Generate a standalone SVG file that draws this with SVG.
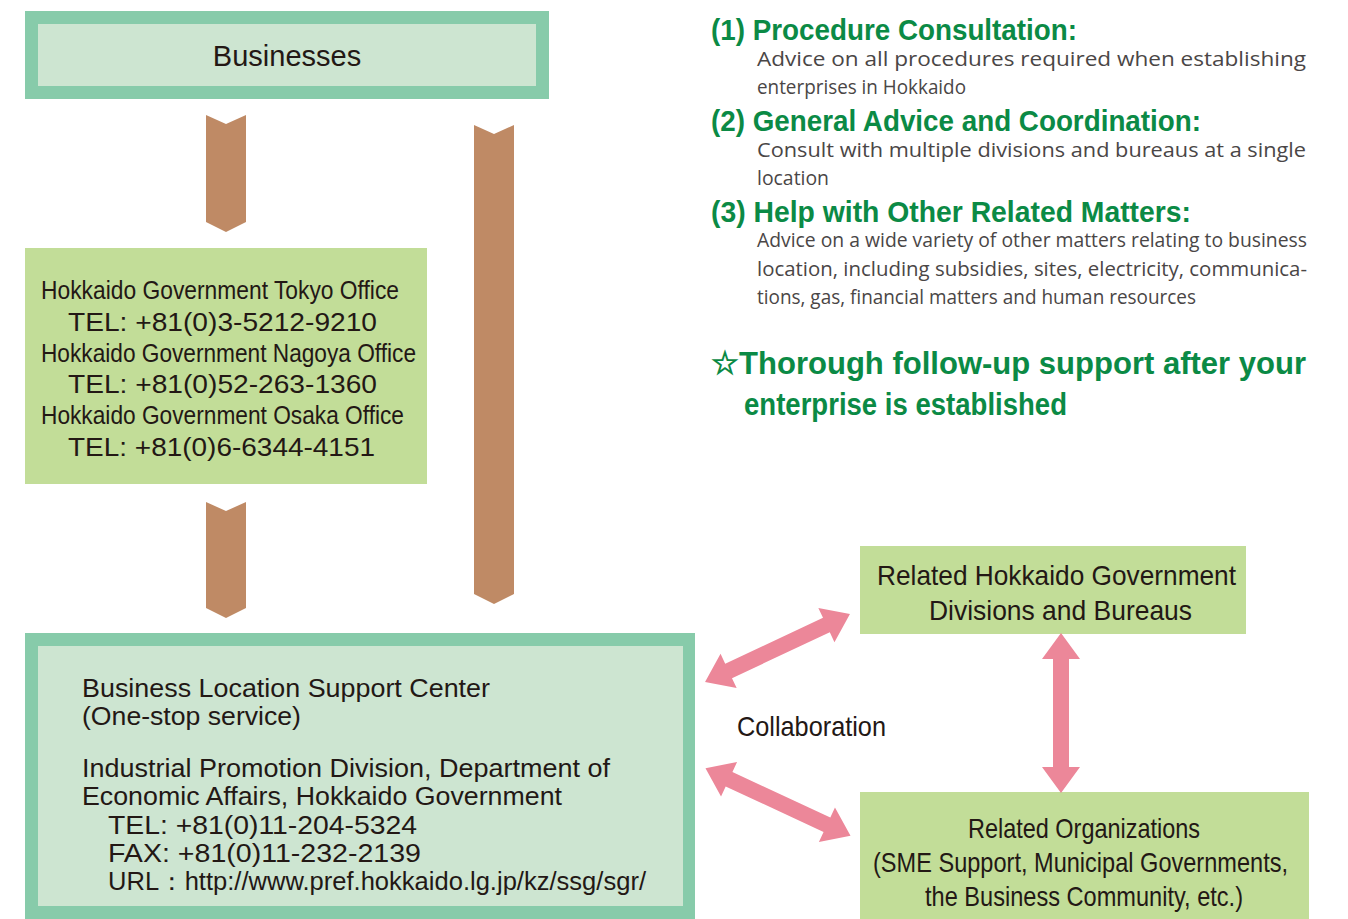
<svg xmlns="http://www.w3.org/2000/svg" width="1348" height="919" viewBox="0 0 1348 919">
<defs>
<style>
.outer{fill:#87CBAA}
.inner{fill:#CDE5D1}
.lg{fill:#C2DD98}
.tan{fill:#BF8A65}
.pink{fill:#EC8799}
.t{font-family:"Liberation Sans",Arial,sans-serif;fill:#231815}
.h{font-family:"Liberation Sans",Arial,sans-serif;font-weight:bold;fill:#0B8A45}
.b{font-family:"Open Sans","Noto Sans",sans-serif;fill:#4A4646}
</style>
<polygon id="dbl" points="-80,0 -54,-19 -54,-8 54,-8 54,-19 80,0 54,19 54,8 -54,8 -54,19"/>
</defs>
<rect width="1348" height="919" fill="#ffffff"/>

<g id="businesses">
<rect class="outer" x="25" y="11" width="524" height="88"/>
<rect class="inner" x="38" y="24" width="498" height="62"/>
<text class="t" x="287" y="66" font-size="29" text-anchor="middle">Businesses</text>
</g>

<g id="tokyo-offices">
<rect class="lg" x="25" y="248" width="402" height="236"/>
<text class="t" x="41" y="299" font-size="26" textLength="358" lengthAdjust="spacingAndGlyphs">Hokkaido Government Tokyo Office</text>
<text class="t" x="68" y="331" font-size="26" textLength="309" lengthAdjust="spacingAndGlyphs">TEL: +81(0)3-5212-9210</text>
<text class="t" x="41" y="362" font-size="26" textLength="375" lengthAdjust="spacingAndGlyphs">Hokkaido Government Nagoya Office</text>
<text class="t" x="68" y="393" font-size="26" textLength="309" lengthAdjust="spacingAndGlyphs">TEL: +81(0)52-263-1360</text>
<text class="t" x="41" y="424" font-size="26" textLength="363" lengthAdjust="spacingAndGlyphs">Hokkaido Government Osaka Office</text>
<text class="t" x="68" y="456" font-size="26" textLength="307" lengthAdjust="spacingAndGlyphs">TEL: +81(0)6-6344-4151</text>
</g>

<g id="support-center">
<rect class="outer" x="25" y="633" width="670" height="290"/>
<rect class="inner" x="38" y="646" width="645" height="260"/>
<text class="t" x="82" y="697" font-size="25" textLength="408" lengthAdjust="spacingAndGlyphs">Business Location Support Center</text>
<text class="t" x="82" y="725" font-size="25" textLength="219" lengthAdjust="spacingAndGlyphs">(One-stop service)</text>
<text class="t" x="82" y="777" font-size="25" textLength="528" lengthAdjust="spacingAndGlyphs">Industrial Promotion Division, Department of</text>
<text class="t" x="82" y="805" font-size="25" textLength="480" lengthAdjust="spacingAndGlyphs">Economic Affairs, Hokkaido Government</text>
<text class="t" x="108" y="834" font-size="25" textLength="309" lengthAdjust="spacingAndGlyphs">TEL: +81(0)11-204-5324</text>
<text class="t" x="108" y="862" font-size="25" textLength="313" lengthAdjust="spacingAndGlyphs">FAX: +81(0)11-232-2139</text>
<text class="t" x="108" y="890" font-size="25" textLength="538" lengthAdjust="spacingAndGlyphs">URL：http://www.pref.hokkaido.lg.jp/kz/ssg/sgr/</text>
</g>

<g id="related-divisions">
<rect class="lg" x="860" y="546" width="386" height="88"/>
<text class="t" x="877" y="585" font-size="28" textLength="359" lengthAdjust="spacingAndGlyphs">Related Hokkaido Government</text>
<text class="t" x="929" y="620" font-size="28" textLength="263" lengthAdjust="spacingAndGlyphs">Divisions and Bureaus</text>
</g>

<g id="related-organizations">
<rect class="lg" x="860" y="792" width="449" height="127"/>
<text class="t" x="968" y="838" font-size="28" textLength="232" lengthAdjust="spacingAndGlyphs">Related Organizations</text>
<text class="t" x="873" y="872" font-size="28" textLength="415" lengthAdjust="spacingAndGlyphs">(SME Support, Municipal Governments,</text>
<text class="t" x="925" y="906" font-size="28" textLength="318" lengthAdjust="spacingAndGlyphs">the Business Community, etc.)</text>
</g>

<g id="services">
<text class="h" x="711" y="40" font-size="30" textLength="366" lengthAdjust="spacingAndGlyphs">(1) Procedure Consultation:</text>
<text class="b" x="757" y="66" font-size="20" textLength="549" lengthAdjust="spacingAndGlyphs">Advice on all procedures required when establishing</text>
<text class="b" x="757" y="94" font-size="20" textLength="209" lengthAdjust="spacingAndGlyphs">enterprises in Hokkaido</text>
<text class="h" x="711" y="131" font-size="30" textLength="490" lengthAdjust="spacingAndGlyphs">(2) General Advice and Coordination:</text>
<text class="b" x="757" y="157" font-size="20" textLength="549" lengthAdjust="spacingAndGlyphs">Consult with multiple divisions and bureaus at a single</text>
<text class="b" x="757" y="185" font-size="20" textLength="72" lengthAdjust="spacingAndGlyphs">location</text>
<text class="h" x="711" y="222" font-size="30" textLength="480" lengthAdjust="spacingAndGlyphs">(3) Help with Other Related Matters:</text>
<text class="b" x="757" y="247" font-size="20" textLength="550" lengthAdjust="spacingAndGlyphs">Advice on a wide variety of other matters relating to business</text>
<text class="b" x="757" y="276" font-size="20" textLength="550" lengthAdjust="spacingAndGlyphs">location, including subsidies, sites, electricity, communica-</text>
<text class="b" x="757" y="304" font-size="20" textLength="439" lengthAdjust="spacingAndGlyphs">tions, gas, financial matters and human resources</text>
<text class="h" x="711" y="374" font-size="32" textLength="595" lengthAdjust="spacingAndGlyphs">☆Thorough follow-up support after your</text>
<text class="h" x="744" y="415" font-size="32" textLength="323" lengthAdjust="spacingAndGlyphs">enterprise is established</text>
</g>

<g id="collaboration-label">
<text class="t" x="737" y="736" font-size="28" textLength="149" lengthAdjust="spacingAndGlyphs">Collaboration</text>
</g>

<g id="connectors">
<polygon class="tan" points="206,115 226,124 246,115 246,222 226,232 206,222"/>
<polygon class="tan" points="206,502 226,511 246,502 246,608 226,618 206,608"/>
<polygon class="tan" points="474,125 494,134 514,125 514,594 494,604 474,594"/>
<use href="#dbl" class="pink" transform="translate(777.5,648) rotate(-25.1)"/>
<use href="#dbl" class="pink" transform="translate(778,802) rotate(25)"/>
<use href="#dbl" class="pink" transform="translate(1061,713) rotate(90)"/>
</g>
</svg>
